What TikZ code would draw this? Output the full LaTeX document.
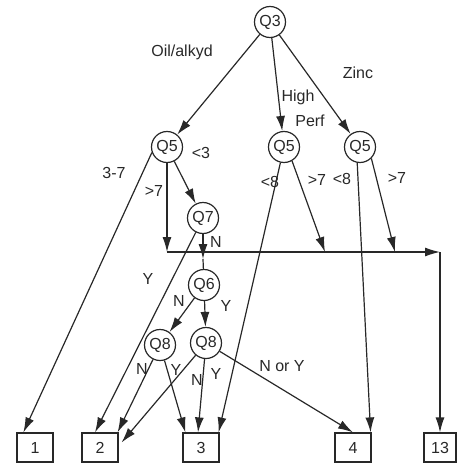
\documentclass[tikz,border=0pt]{standalone}
\usepackage{fontspec}
\setmainfont{Liberation Sans}
\usetikzlibrary{arrows.meta}
\definecolor{inkc}{RGB}{40,40,40}
\newcommand{\qfont}{\fontsize{16}{18}\selectfont}
\begin{document}
\begin{tikzpicture}[x=1pt,y=-1pt,
  ink/.style={draw=inkc, line width=1.2pt},
  qnode/.style={circle, ink, minimum size=31pt, inner sep=0pt, font=\qfont, text=inkc},
  leaf/.style={rectangle, ink, minimum width=36pt, minimum height=29pt, inner sep=0pt, font=\qfont, text=inkc},
  edge/.style={ink, -{Latex[length=15pt,width=9pt]}},
  plain/.style={ink},
  lbl/.style={font=\qfont, text=inkc, inner sep=0pt}]
\useasboundingbox (0,0) rectangle (457,463);
% question nodes
\node[qnode] (q3)  at (270,22)  {Q3};
\node[qnode] (q5a) at (167,147) {Q5};
\node[qnode] (q5b) at (284,147) {Q5};
\node[qnode] (q5c) at (360,147) {Q5};
\node[qnode] (q7)  at (203,218) {Q7};
\node[qnode] (q6)  at (204,285) {Q6};
\node[qnode] (q8a) at (160,345) {Q8};
\node[qnode] (q8b) at (206,343) {Q8};
% leaves
\node[leaf] (b1)  at (35,447.5)  {1};
\node[leaf] (b2)  at (100,447.5) {2};
\node[leaf] (b3)  at (201,447.5) {3};
\node[leaf] (b4)  at (353,447.5) {4};
\node[leaf, minimum width=32pt] (b13) at (440,447.5) {13};
% junction coordinates on the horizontal line
\coordinate (h0) at (167,252);
\coordinate (hb) at (325,252);
\coordinate (hc) at (395,252);
\coordinate (hr) at (440,252);
\coordinate (q7n) at (203,259);
% edges from Q3
\draw[edge] (q3) -- (q5a);
\draw[edge] (q3) -- (q5b);
\draw[edge] (q3) -- (q5c);
% left Q5
\draw[edge] (q5a.200) -- ([xshift=7pt]b1.north west);
\draw[edge] (q5a) -- (h0);
\draw[edge] (q5a) -- (q7);
% horizontal line to 13
\draw[edge] (h0) -- (hr);
\draw[edge] (hr) -- (b13);
% middle Q5
\draw[edge] (q5b.300) -- (hb);
\draw[edge] (q5b) -- ([xshift=-1pt]b3.north east);
% right Q5
\draw[edge] (q5c.315) -- (hc);
\draw[edge] (q5c.260) -- ([xshift=-1pt]b4.north east);
% Q7
\draw[edge] (q7) -- ([xshift=-5pt]b2.north);
\draw[edge] (q7) -- (q7n);
\draw[plain] (q7n) -- (q6);
% Q6
\draw[edge] (q6) -- (q8a);
\draw[edge] (q6) -- (q8b);
% Q8 left
\draw[edge] (q8a) -- ([xshift=-1pt]b2.north east);
\draw[edge] (q8a) -- ([xshift=3pt]b3.north west);
% Q8 right
\draw[edge] (q8b) -- ([xshift=3pt,yshift=5pt]b2.east);
\draw[edge] (q8b) -- ([xshift=-3pt]b3.north);
\draw[edge] (q8b) -- (b4.north);
% labels
\node[lbl] (l1) at (182,52) {Oil/alkyd};
\node[lbl] (l2) at (358,73) {Zinc};
\node[lbl] (l3) at (298,97) {High};
\node[lbl] (l4) at (310,121) {Perf};
\node[lbl] (l5) at (201,153) {<3};
\node[lbl] (l6) at (114,173) {3-7};
\node[lbl] (l7) at (154,191) {>7};
\node[lbl] (l8) at (270,182) {<8};
\node[lbl] (l9) at (317,180) {>7};
\node[lbl] (l10) at (342,179) {<8};
\node[lbl] (l11) at (397,178) {>7};
\node[lbl] (l12) at (216,242) {N};
\node[lbl] (l13) at (148,279) {Y};
\node[lbl] (l14) at (179,301) {N};
\node[lbl] (l15) at (226,306) {Y};
\node[lbl] (l16) at (142,369) {N};
\node[lbl] (l17) at (176,370) {Y};
\node[lbl] (l18) at (197,380) {N};
\node[lbl] (l19) at (216,374) {Y};
\node[lbl] (l20) at (282,366) {N or Y};
\end{tikzpicture}
\end{document}
